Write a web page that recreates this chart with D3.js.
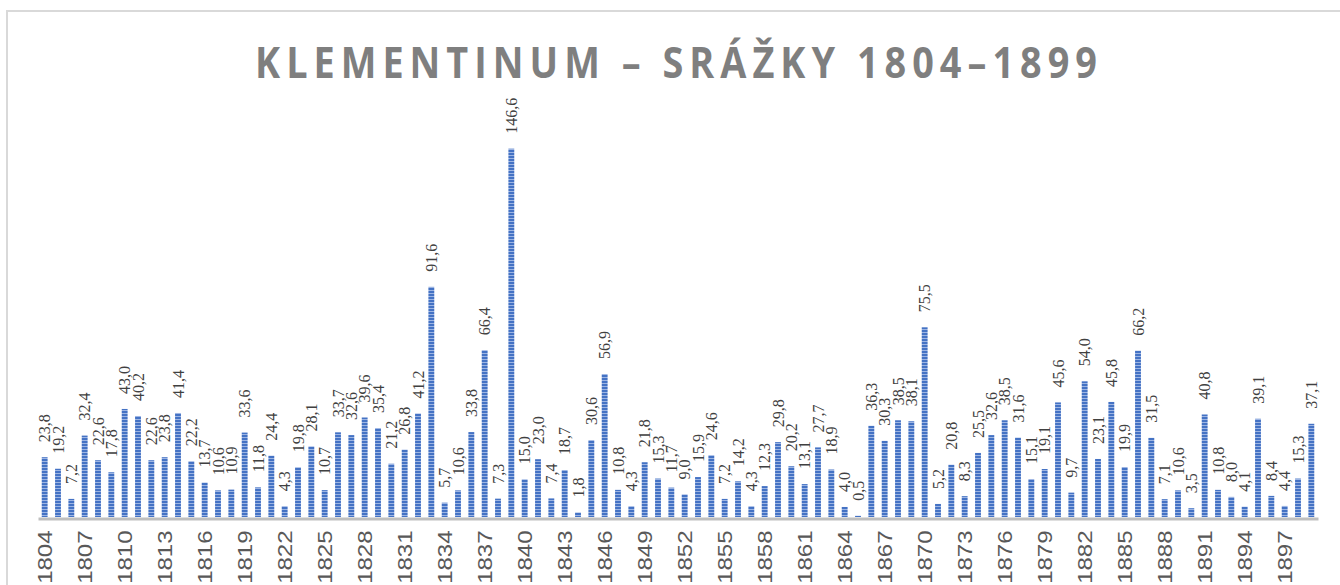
<!DOCTYPE html>
<html>
<head>
	<meta charset="utf-8">
	<title>Klementinum</title>
	<script src="https://d3js.org/d3.v7.min.js"></script>
	<style>
		html, body {
			margin: 0;
			background: white;
			overflow: hidden;
		}
	</style>
</head>
<body>
	<svg id="svg"></svg>
	<script>
		const title = "KLEMENTINUM – SRÁŽKY 1804–1899";

		const years = [
			1804, 1805, 1806, 1807, 1808, 1809, 1810, 1811, 1812, 1813, 1814, 1815,
			1816, 1817, 1818, 1819, 1820, 1821, 1822, 1823, 1824, 1825, 1826, 1827,
			1828, 1829, 1830, 1831, 1832, 1833, 1834, 1835, 1836, 1837, 1838, 1839,
			1840, 1841, 1842, 1843, 1844, 1845, 1846, 1847, 1848, 1849, 1850, 1851,
			1852, 1853, 1854, 1855, 1856, 1857, 1858, 1859, 1860, 1861, 1862, 1863,
			1864, 1865, 1866, 1867, 1868, 1869, 1870, 1871, 1872, 1873, 1874, 1875,
			1876, 1877, 1878, 1879, 1880, 1881, 1882, 1883, 1884, 1885, 1886, 1887,
			1888, 1889, 1890, 1891, 1892, 1893, 1894, 1895, 1896, 1897, 1898, 1899
		];

		const precipitation = [
			23.8, 19.2, 7.2, 32.4, 22.6, 17.8, 43.0, 40.2, 22.6, 23.8, 41.4, 22.2,
			13.7, 10.6, 10.9, 33.6, 11.8, 24.4, 4.3, 19.8, 28.1, 10.7, 33.7, 32.6,
			39.6, 35.4, 21.2, 26.8, 41.2, 91.6, 5.7, 10.6, 33.8, 66.4, 7.3, 146.6,
			15.0, 23.0, 7.4, 18.7, 1.8, 30.6, 56.9, 10.8, 4.3, 21.8, 15.3, 11.7,
			9.0, 15.9, 24.6, 7.2, 14.2, 4.3, 12.3, 29.8, 20.2, 13.1, 27.7, 18.9,
			4.0, 0.5, 36.3, 30.3, 38.5, 38.1, 75.5, 5.2, 20.8, 8.3, 25.5, 32.6,
			38.5, 31.6, 15.1, 19.1, 45.6, 9.7, 54.0, 23.1, 45.8, 19.9, 66.2, 31.5,
			7.1, 10.6, 3.5, 40.8, 10.8, 8.0, 4.1, 39.1, 8.4, 4.4, 15.3, 37.1
		];

		const tickYears = [
			1804, 1807, 1810, 1813, 1816, 1819, 1822, 1825, 1828, 1831, 1834, 1837,
			1840, 1843, 1846, 1849, 1852, 1855, 1858, 1861, 1864, 1867, 1870, 1873,
			1876, 1879, 1882, 1885, 1888, 1891, 1894, 1897
		];

		const width = 1340;
		const height = 585;
		const baseY = 517;

		const data = years.map((y, i) => ({ year: y, value: precipitation[i] }));

		const svg = d3.select("#svg")
			.attr("width", width)
			.attr("height", height);

		// outer chart frame
		svg.append("rect")
			.attr("x", 7)
			.attr("y", 11)
			.attr("width", 1500)
			.attr("height", 800)
			.attr("fill", "white")
			.attr("stroke", "#d9d9d9")
			.attr("stroke-width", 2);

		// striped bar fill
		const pattern = svg.append("defs").append("pattern")
			.attr("id", "stripes")
			.attr("patternUnits", "userSpaceOnUse")
			.attr("width", 4)
			.attr("height", 3);
		pattern.append("rect")
			.attr("width", 4).attr("height", 3)
			.attr("fill", "#4472c4");
		pattern.append("rect")
			.attr("y", 2).attr("width", 4).attr("height", 1)
			.attr("fill", "#9db5e3");

		const x = d3.scaleBand()
			.domain(years)
			.range([38, 1318])
			.paddingInner(0.56)
			.paddingOuter(0.28);

		const y = d3.scaleLinear()
			.domain([0, 160])
			.range([baseY, 115]);

		// title
		svg.append("g")
			.attr("transform", "translate(676, 78) scale(0.88, 1)")
			.append("text")
			.attr("text-anchor", "middle")
			.attr("font-family", "'Open Sans', sans-serif")
			.attr("font-weight", "bold")
			.attr("font-size", 43)
			.attr("fill", "#7f7f7f")
			.attr("textLength", 842 / 0.88)
			.attr("lengthAdjust", "spacing")
			.text(title);

		svg.append("g")
			.selectAll("rect")
			.data(data)
			.enter()
			.append("rect")
			.attr("x", d => x(d.year))
			.attr("y", d => y(d.value))
			.attr("width", x.bandwidth())
			.attr("height", d => baseY - y(d.value))
			.attr("fill", "url(#stripes)");

		// value labels
		svg.append("g")
			.selectAll("text")
			.data(data)
			.enter()
			.append("text")
			.attr("transform", d => `translate(${x(d.year) + x.bandwidth() / 2 + 5.5}, ${y(d.value) - 15}) rotate(-90)`)
			.attr("font-family", "'Liberation Serif', 'Times New Roman', serif")
			.attr("font-size", 16)
			.attr("fill", "#404040")
			.text(d => d.value.toFixed(1).replace(".", ","));

		const axis = svg.append("g")
			.attr("transform", `translate(0, ${baseY + 1.5})`)
			.call(d3.axisBottom(x).tickValues(tickYears).tickSize(0).tickSizeOuter(0));

		axis.select(".domain")
			.attr("stroke", "#bfbfbf")
			.attr("stroke-width", 3);

		axis.selectAll(".tick text")
			.attr("transform", "translate(7.5, 12) rotate(-90) scale(1.2, 1)")
			.attr("x", 0)
			.attr("y", 0)
			.attr("dy", 0)
			.attr("text-anchor", "end")
			.attr("font-family", "'Liberation Sans', Arial, sans-serif")
			.attr("font-size", 20)
			.attr("fill", "#595959");
	</script>
</body>
</html>
